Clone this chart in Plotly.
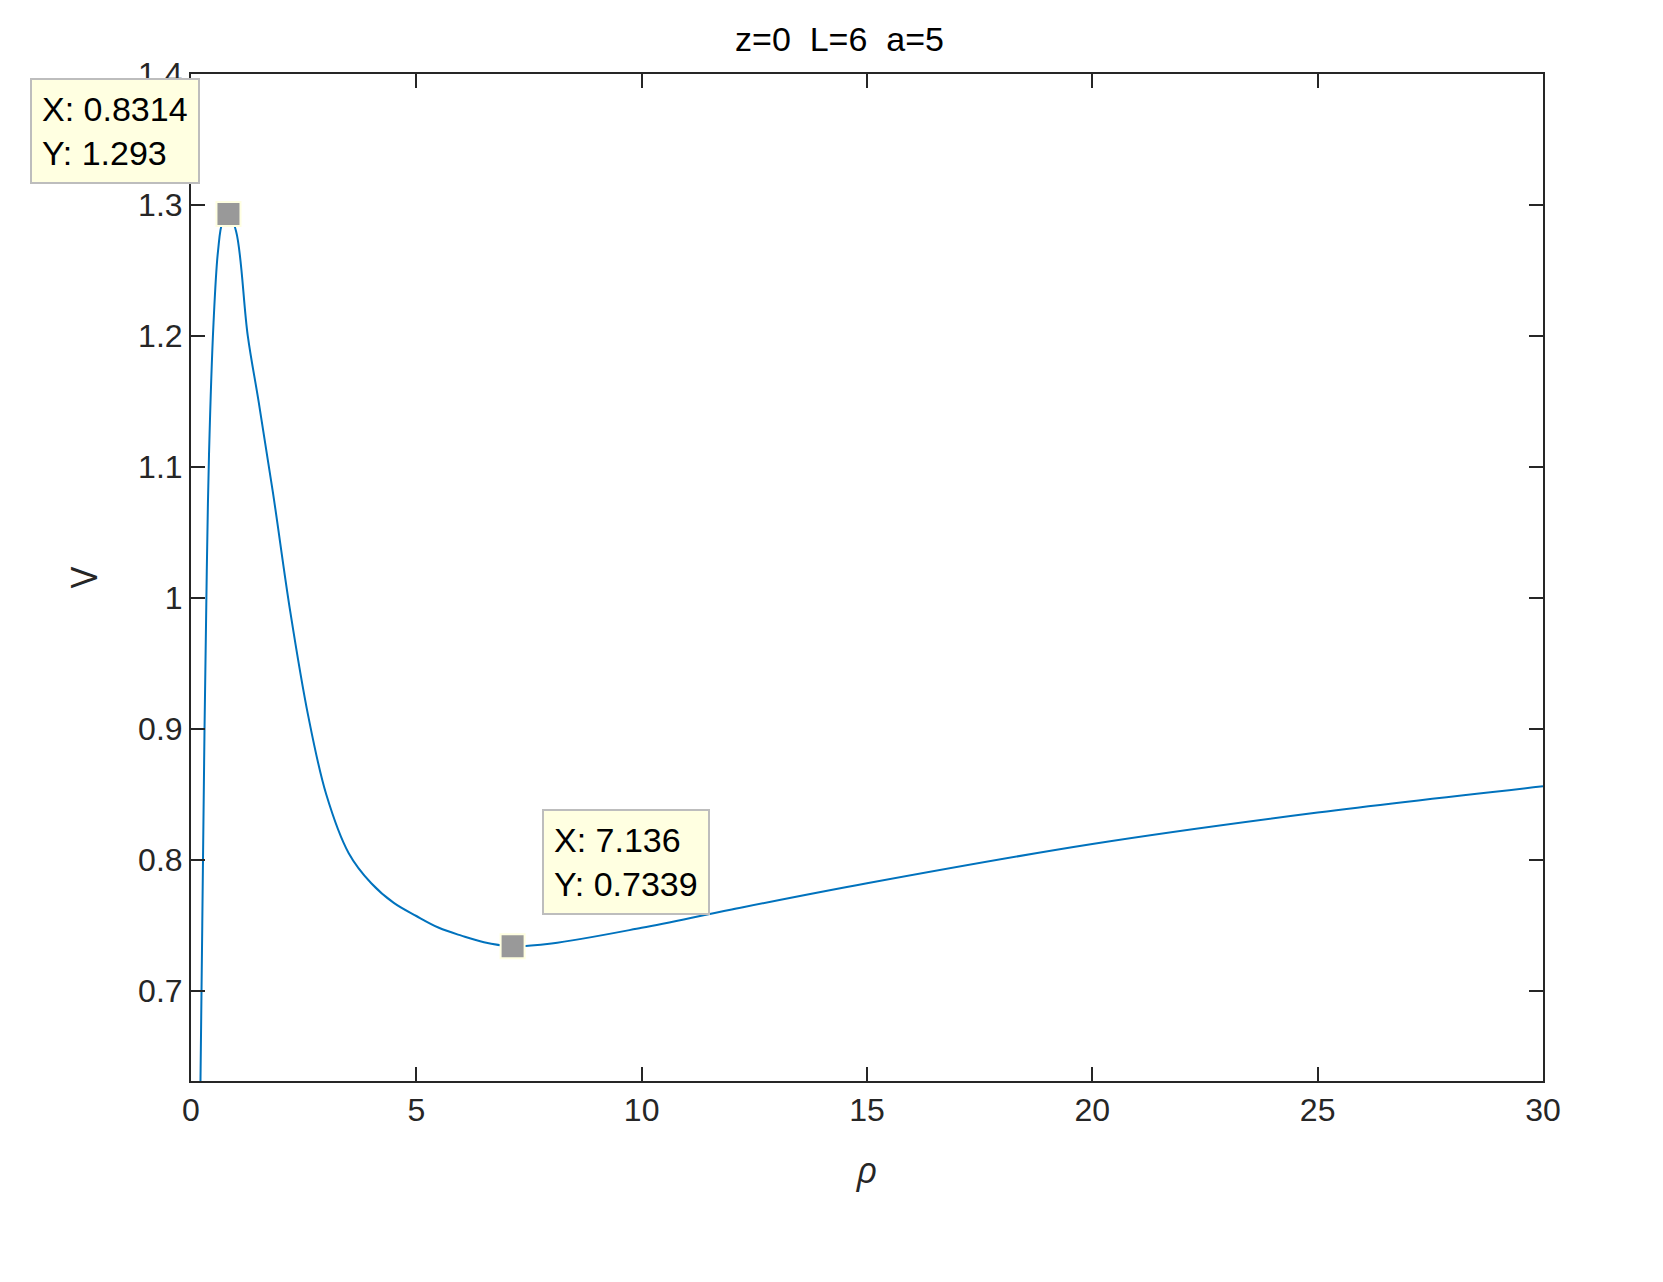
import plotly.graph_objects as go

# curve
rho = [0.2, 0.25, 0.3, 0.35, 0.4, 0.5, 0.6, 0.7, 0.8314, 1.0, 1.26, 1.5, 1.82, 2.2, 2.6,
       3.0, 3.5, 4.0, 4.5, 5, 5.5, 6, 6.5, 7.136, 8, 10, 12, 15, 20, 25, 30]
V = [0.60, 0.75, 0.90, 1.02, 1.11, 1.21, 1.265, 1.287, 1.293, 1.28, 1.2, 1.15, 1.08, 0.99, 0.91,
     0.85, 0.805, 0.782, 0.767, 0.757, 0.748, 0.742, 0.737, 0.7339, 0.736, 0.748, 0.762, 0.782,
     0.812, 0.836, 0.856]

tip_x = [0.8314, 7.136]
tip_y = [1.293, 0.7339]
tip_off = [(-113, -83), (113, -84)]

font = dict(family="Liberation Sans, Arial", size=32, color="#262626")

fig = go.Figure()
fig.add_trace(go.Scatter(x=rho, y=V, mode="lines", line=dict(color="#0072BD", width=2, shape="spline"),
                         showlegend=False))
fig.add_trace(go.Scatter(x=tip_x, y=tip_y, mode="markers", showlegend=False,
                         marker=dict(symbol="square", size=24, color="#999999",
                                     line=dict(color="#FFFFE1", width=2))))

for x, y, (ax, ay) in zip(tip_x, tip_y, tip_off):
    fig.add_annotation(x=x, y=y, ax=ax, ay=ay, showarrow=True, arrowcolor="rgba(0,0,0,0)",
                       text=f"X: {x}<br>Y: {y}", align="left",
                       font=dict(family="Liberation Sans, Arial", size=34, color="black"),
                       bgcolor="#FFFFE1", bordercolor="#BDBDBD", borderwidth=2, borderpad=10)

axis = dict(showline=True, linecolor="#262626", linewidth=2, mirror="ticks", ticks="inside",
            ticklen=14, tickwidth=2, tickcolor="#262626", showgrid=False, zeroline=False,
            tickfont=font)
fig.update_xaxes(range=[0, 30], dtick=5,
                 title=dict(text="<i>ρ</i>", font=dict(size=36, color="#262626"), standoff=30), **axis)
fig.update_yaxes(range=[0.631, 1.4], tickvals=[0.7, 0.8, 0.9, 1, 1.1, 1.2, 1.3, 1.4],
                 ticktext=["0.7", "0.8", "0.9", "1", "1.1", "1.2", "1.3", "1.4"],
                 title=dict(text="V", font=dict(size=36, color="#262626"), standoff=30), **axis)
fig.update_layout(width=1663, height=1282, plot_bgcolor="white", paper_bgcolor="white",
                  margin=dict(l=183, r=128, t=66, b=209),
                  title=dict(text="z=0  L=6  a=5", x=0.5, xanchor="center", y=0.985, yanchor="top",
                             font=dict(family="Liberation Sans, Arial", size=34, color="black")))
fig.write_html("out.html")
